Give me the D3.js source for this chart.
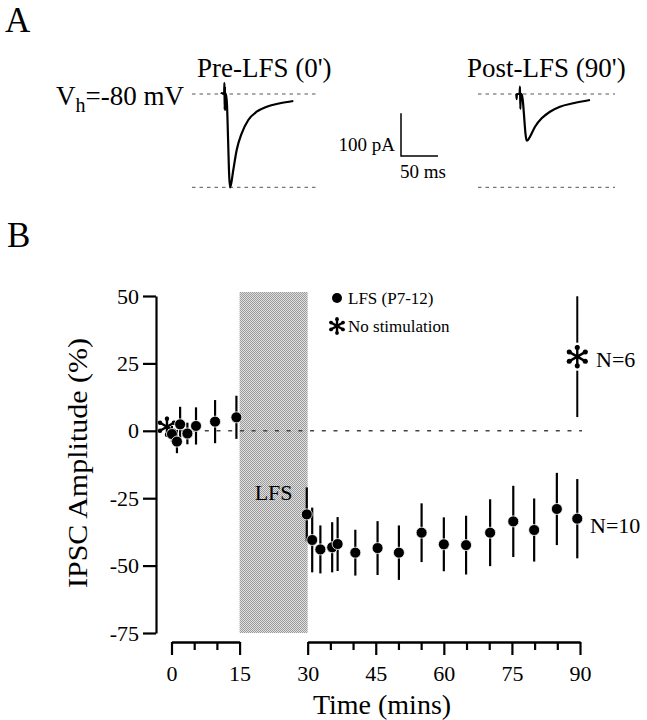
<!DOCTYPE html>
<html>
<head>
<meta charset="utf-8">
<script src="https://d3js.org/d3.v7.min.js"></script>
<style>
  body { margin: 0; background: #fff; }
  svg { display: block; font-family: "Liberation Serif", "Times New Roman", serif; }
</style>
</head>
<body>
<svg width="647" height="720"></svg>
<script>

// panel A traces: time (ms from stimulus) and current (pA)
var preTime = [-5, -4.5, -1.2, -0.8, -0.4, 0, 0.4, 0.8, 1.6, 6.8, 8, 11.2, 15.8, 22.6, 31.5, 42.8, 56.4, 74.3, 92.3];
var preCurrent = [0, 2, 0, 26, -37, 18, -37, 0, 0, -218, -212, -177.6, -130.8, -91.8, -60.7, -41.4, -29.7, -21.7, -16.4];
var postTime = [-5, -4.6, -4.2, -0.6, 0, 0.5, 1, 2.2, 9.1, 10.5, 13.5, 20.3, 29.3, 40.5, 54, 72, 94.6];
var postCurrent = [0, -12, 0, 0, 17, -35, 0, 0, -109, -108, -99.8, -76.4, -56.8, -41.4, -29.7, -21.7, -14];

// panel B: LFS (P7-12) group, % change of IPSC amplitude
var lfsTime = [0.1, 1.2, 1.9, 3.5, 5.4, 9.6, 14.3, 29.8, 31, 32.8, 35.4, 36.6, 40.5, 45.4, 50.1, 55.1, 60, 64.9, 70.2, 75.3, 79.9, 84.9, 89.4];
var lfsAmp = [-1.2, -4, 2.4, -1, 1.8, 3.4, 5, -31, -40.5, -44, -43.2, -42, -45.2, -43.5, -45.2, -37.8, -42.1, -42.4, -37.8, -33.6, -36.8, -29, -32.6];
var lfsErr = [3, 4.3, 6.5, 4, 6.9, 8, 8, 10, 12, 8.9, 9.3, 10, 8.5, 10, 10.1, 10.9, 10, 10.9, 12.4, 13.2, 11.7, 13.4, 14.7];

// no stimulation group
var noStimTime = [-1, 89.4];
var noStimAmp = [1.5, 27.5];
var noStimErr = [0, 22.4];

var yTicks = [-75, -50, -25, 0, 25, 50];
var xMajor1 = [0, 15], xMajor2 = [30, 45, 60, 75, 90];
var xMinor1 = [5, 10], xMinor2 = [35, 40, 50, 55, 65, 70, 80, 85];
var lfsWindow = [15, 30];

var svg = d3.select("svg");

svg.append("rect").attr("width", 647).attr("height", 720).attr("fill", "#fff");

// checker texture for the LFS period
var defs = svg.append("defs");
var pat = defs.append("pattern")
    .attr("id", "chk")
    .attr("width", 2).attr("height", 2)
    .attr("patternUnits", "userSpaceOnUse");
pat.append("rect").attr("width", 2).attr("height", 2).attr("fill", "#e0e0e0");
pat.append("rect").attr("width", 1).attr("height", 1).attr("fill", "#9a9a9a");
pat.append("rect").attr("x", 1).attr("y", 1).attr("width", 1).attr("height", 1).attr("fill", "#9a9a9a");

// ---------- A ----------
svg.append("text").attr("x", 5).attr("y", 32).attr("font-size", 35).text("A");

var tx = 0.74, pa = 0.428;  // px per ms, px per pA
var yTr = d3.scaleLinear().domain([0, -100]).range([94, 94 + 100 * pa]);
var xPre = d3.scaleLinear().domain([0, 50]).range([225, 225 + 50 * tx]);
var xPost = d3.scaleLinear().domain([0, 50]).range([520, 520 + 50 * tx]);

function dashes(x0, x1) {
  [0, -218].forEach(function(v) {
    svg.append("line")
        .attr("x1", x0).attr("x2", x1)
        .attr("y1", yTr(v)).attr("y2", yTr(v))
        .attr("stroke", "#555").attr("stroke-width", 1)
        .attr("stroke-dasharray", "3.5,4");
  });
}
dashes(192, 316);
dashes(478, 615);

function trace(xs, t, c) {
  var line = d3.line()
      .x(function(d, i) { return xs(t[i]); })
      .y(function(d, i) { return yTr(c[i]); })
      .curve(d3.curveMonotoneX);
  svg.append("path")
      .attr("d", line(t))
      .attr("fill", "none")
      .attr("stroke", "#000")
      .attr("stroke-width", 2.2)
      .attr("stroke-linejoin", "round");
}
trace(xPre, preTime, preCurrent);
trace(xPost, postTime, postCurrent);

svg.append("text").attr("x", 197).attr("y", 77).attr("font-size", 27).text("Pre-LFS (0')");
svg.append("text").attr("x", 467).attr("y", 77).attr("font-size", 27).text("Post-LFS (90')");

var vh = svg.append("text").attr("x", 56).attr("y", 105).attr("font-size", 27);
vh.append("tspan").text("V");
vh.append("tspan").attr("font-size", 20).attr("dy", 7).text("h");
vh.append("tspan").attr("dy", -7).text("=-80 mV");

// scale bar 100 pA / 50 ms
var sbx = 401, sby = 156;
svg.append("path")
    .attr("d", "M" + sbx + "," + (sby - 100 * pa) + "V" + sby + "H" + (sbx + 50 * tx))
    .attr("fill", "none").attr("stroke", "#000").attr("stroke-width", 1.5);
svg.append("text").attr("x", 395).attr("y", 151).attr("text-anchor", "end").attr("font-size", 19).text("100 pA");
svg.append("text").attr("x", 400).attr("y", 178).attr("font-size", 19).text("50 ms");

// ---------- B ----------
svg.append("text").attr("x", 7).attr("y", 247).attr("font-size", 35).text("B");

var x = d3.scaleLinear().domain([0, 90]).range([171.5, 580]);
var y = d3.scaleLinear().domain([-75, 50]).range([633, 296]);

svg.append("rect")
    .attr("x", x(lfsWindow[0]))
    .attr("y", y(51.5))
    .attr("width", x(lfsWindow[1]) - x(lfsWindow[0]))
    .attr("height", y(-75) - y(51.5))
    .attr("fill", "url(#chk)");

svg.append("text")
    .attr("x", (x(lfsWindow[0]) + x(lfsWindow[1])) / 2)
    .attr("y", 500)
    .attr("text-anchor", "middle")
    .attr("font-size", 22)
    .text("LFS");

// zero line
svg.append("line")
    .attr("x1", 158).attr("x2", 582)
    .attr("y1", y(0)).attr("y2", y(0))
    .attr("stroke", "#444").attr("stroke-width", 1.5)
    .attr("stroke-dasharray", "4,7.7");

var plain = function(d) { return String(d); };  // hyphen minus, as in the figure

// y axis
svg.append("g")
    .attr("transform", "translate(156,0)")
    .call(d3.axisLeft(y).tickValues(yTicks).tickFormat(plain).tickSize(13).tickSizeOuter(0).tickPadding(4));

// x axis in two pieces (break over LFS)
var x1 = d3.scaleLinear().domain([0, 15]).range([x(0), x(15)]);
var x2 = d3.scaleLinear().domain([30, 90]).range([x(30), x(90)]);
[[x1, xMajor1, xMinor1], [x2, xMajor2, xMinor2]].forEach(function(s) {
  svg.append("g")
      .attr("transform", "translate(0,642)")
      .call(d3.axisBottom(s[0]).tickValues(s[1]).tickFormat(plain).tickSize(13).tickSizeOuter(0).tickPadding(10));
  svg.append("g")
      .attr("transform", "translate(0,642)")
      .call(d3.axisBottom(s[0]).tickValues(s[2]).tickSize(8).tickSizeOuter(0).tickFormat(""));
});

svg.selectAll(".domain, .tick line").attr("stroke", "#000").attr("stroke-width", 2.2);
svg.selectAll(".tick text").attr("font-family", "Liberation Serif").attr("font-size", 22).attr("fill", "#000");

svg.append("text")
    .attr("x", 382).attr("y", 714)
    .attr("text-anchor", "middle")
    .attr("font-size", 28)
    .text("Time (mins)");

svg.append("text")
    .attr("transform", "translate(87,463) rotate(-90)")
    .attr("text-anchor", "middle")
    .attr("font-size", 28)
    .attr("textLength", 250)
    .attr("lengthAdjust", "spacingAndGlyphs")
    .text("IPSC Amplitude (%)");

// asterisk marker, arms ending in small blobs
function star(g, cx, cy, r) {
  var s = g.append("g").attr("transform", "translate(" + cx + "," + cy + ")");
  [90, 30, 150].forEach(function(a) {
    var dx = r * Math.cos(a * Math.PI / 180), dy = r * Math.sin(a * Math.PI / 180);
    s.append("line")
        .attr("x1", -dx).attr("y1", -dy).attr("x2", dx).attr("y2", dy)
        .attr("stroke", "#000").attr("stroke-width", 2.4);
    [[dx, dy], [-dx, -dy]].forEach(function(p) {
      s.append("circle").attr("cx", p[0] * 0.8).attr("cy", p[1] * 0.8).attr("r", r * 0.22).attr("fill", "#000");
    });
  });
  s.append("circle").attr("r", 2.2).attr("fill", "#000");
}

// no stimulation: error bar with a gap round the marker
noStimTime.forEach(function(t, i) {
  var cx = x(t), cy = y(noStimAmp[i]), e = noStimErr[i];
  if (e > 0) {
    svg.append("line").attr("x1", cx).attr("x2", cx)
        .attr("y1", y(noStimAmp[i] + e)).attr("y2", cy - 14)
        .attr("stroke", "#000").attr("stroke-width", 2);
    svg.append("line").attr("x1", cx).attr("x2", cx)
        .attr("y1", cy + 14).attr("y2", y(noStimAmp[i] - e))
        .attr("stroke", "#000").attr("stroke-width", 2);
  }
  star(svg, cx, cy, i === 0 ? 10 : 11.5);
});

// LFS points
svg.append("g").selectAll("line")
    .data(lfsTime)
    .enter().append("line")
    .attr("x1", function(d) { return x(d); })
    .attr("x2", function(d) { return x(d); })
    .attr("y1", function(d, i) { return y(lfsAmp[i] + lfsErr[i]); })
    .attr("y2", function(d, i) { return y(lfsAmp[i] - lfsErr[i]); })
    .attr("stroke", "#000")
    .attr("stroke-width", 2.2);

svg.append("g").selectAll("circle")
    .data(lfsTime)
    .enter().append("circle")
    .attr("cx", function(d) { return x(d); })
    .attr("cy", function(d, i) { return y(lfsAmp[i]); })
    .attr("r", 5.5)
    .attr("fill", "#000")
    .attr("stroke", "#fff")
    .attr("stroke-width", 0.8);

svg.append("text").attr("x", 596).attr("y", 367).attr("font-size", 22).text("N=6");
svg.append("text").attr("x", 590).attr("y", 533).attr("font-size", 22).text("N=10");

// legend
svg.append("circle").attr("cx", 337).attr("cy", 298).attr("r", 5).attr("fill", "#000");
svg.append("text").attr("x", 348).attr("y", 304).attr("font-size", 17).text("LFS (P7-12)");
star(svg, 337, 326, 8.5);
svg.append("text").attr("x", 348).attr("y", 332).attr("font-size", 17).text("No stimulation");

</script>
</body>
</html>
